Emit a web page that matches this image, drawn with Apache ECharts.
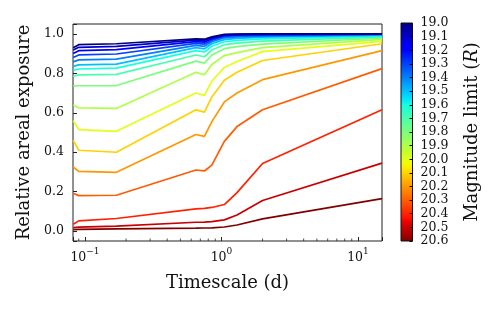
<!DOCTYPE html>
<html><head><meta charset="utf-8">
<script src="https://cdn.jsdelivr.net/npm/echarts@6/dist/echarts.min.js"></script>
<style>html,body{margin:0;padding:0;background:#fff}#c{width:499px;height:310px}</style>
</head><body><div id="c"></div>
<script>
// Timescale (days) sample points
const timescales = [0.082, 0.09, 0.17, 0.65, 0.75, 0.85, 1.05, 1.3, 2.0, 15];
// Relative areal exposure per magnitude limit
const exp19_0 = [0.930, 0.945, 0.950, 0.975, 0.973, 0.985, 0.997, 0.999, 1.000, 1.000];
const exp19_1 = [0.918, 0.932, 0.937, 0.968, 0.966, 0.980, 0.995, 0.998, 0.999, 1.000];
const exp19_2 = [0.900, 0.915, 0.920, 0.961, 0.958, 0.975, 0.992, 0.995, 0.997, 0.999];
const exp19_3 = [0.880, 0.893, 0.898, 0.952, 0.948, 0.968, 0.987, 0.991, 0.994, 0.998];
const exp19_4 = [0.858, 0.868, 0.872, 0.942, 0.937, 0.960, 0.980, 0.985, 0.989, 0.996];
const exp19_5 = [0.835, 0.843, 0.847, 0.930, 0.924, 0.950, 0.971, 0.977, 0.983, 0.993];
const exp19_6 = [0.815, 0.822, 0.826, 0.915, 0.908, 0.937, 0.960, 0.967, 0.975, 0.989];
const exp19_7 = [0.785, 0.792, 0.795, 0.893, 0.884, 0.918, 0.945, 0.953, 0.963, 0.985];
const exp19_8 = [0.735, 0.737, 0.738, 0.862, 0.852, 0.893, 0.925, 0.935, 0.948, 0.979];
const exp19_9 = [0.640, 0.625, 0.622, 0.805, 0.793, 0.845, 0.890, 0.905, 0.930, 0.972];
const exp20_0 = [0.560, 0.515, 0.506, 0.700, 0.688, 0.760, 0.830, 0.860, 0.910, 0.962];
const exp20_1 = [0.460, 0.410, 0.400, 0.615, 0.603, 0.680, 0.765, 0.805, 0.865, 0.950];
const exp20_2 = [0.325, 0.303, 0.298, 0.490, 0.480, 0.555, 0.655, 0.700, 0.768, 0.915];
const exp20_3 = [0.192, 0.180, 0.182, 0.310, 0.305, 0.335, 0.455, 0.530, 0.615, 0.824];
const exp20_4 = [0.035, 0.052, 0.064, 0.113, 0.115, 0.120, 0.135, 0.195, 0.343, 0.615];
const exp20_5 = [0.018, 0.020, 0.025, 0.045, 0.046, 0.048, 0.057, 0.082, 0.155, 0.345];
const exp20_6 = [0.008, 0.009, 0.011, 0.015, 0.016, 0.017, 0.021, 0.031, 0.062, 0.165];

const magnitudes = [19.0, 19.1, 19.2, 19.3, 19.4, 19.5, 19.6, 19.7, 19.8, 19.9, 20.0, 20.1, 20.2, 20.3, 20.4, 20.5, 20.6];
const exposures = [exp19_0, exp19_1, exp19_2, exp19_3, exp19_4, exp19_5, exp19_6, exp19_7, exp19_8, exp19_9,
                   exp20_0, exp20_1, exp20_2, exp20_3, exp20_4, exp20_5, exp20_6];
const xMinorTicks = [0.09, 0.2, 0.3, 0.4, 0.5, 0.6, 0.7, 0.8, 0.9, 2, 3, 4, 5, 6, 7, 8, 9];
const magMin = 19.0, magMax = 20.6;

const X_MIN = 0.0817, X_MAX = 15.0, Y_MIN = -0.05, Y_MAX = 1.05;
const FONT = 'DejaVu Serif';
const INK = '#111';

function interp(v, pts) {
  for (let i = 1; i < pts.length; i++) {
    if (v <= pts[i][0]) {
      const [x0, y0] = pts[i - 1], [x1, y1] = pts[i];
      return y0 + (y1 - y0) * (v - x0) / (x1 - x0);
    }
  }
  return pts[pts.length - 1][1];
}
function jet(v) {
  v = Math.max(0, Math.min(1, v));
  const r = interp(v, [[0, 0], [0.35, 0], [0.66, 1], [0.89, 1], [1, 0.5]]);
  const g = interp(v, [[0, 0], [0.125, 0], [0.375, 1], [0.64, 1], [0.91, 0], [1, 0]]);
  const b = interp(v, [[0, 0.5], [0.11, 1], [0.34, 1], [0.65, 0], [1, 0]]);
  return 'rgb(' + Math.round(r * 255) + ',' + Math.round(g * 255) + ',' + Math.round(b * 255) + ')';
}

const chart = echarts.init(document.getElementById('c'), null, {renderer: 'canvas'});

const lineSeries = [];
for (let i = magnitudes.length - 1; i >= 0; i--) {
  lineSeries.push({
    type: 'line', xAxisIndex: 0, yAxisIndex: 0,
    name: magnitudes[i].toFixed(1),
    showSymbol: false, symbol: 'none', silent: true,
    data: timescales.map((t, j) => [t, exposures[i][j]]),
    lineStyle: {width: 1.7, color: jet((magnitudes[i] - magMin) / (magMax - magMin))},
    z: 3
  });
}

const stops = [];
for (let k = 0; k <= 64; k++) stops.push({offset: k / 64, color: jet(k / 64)});

const option = {
  animation: false,
  backgroundColor: '#fff',
  grid: [
    {left: 73, top: 24, width: 309, height: 217, show: true, borderColor: '#222', borderWidth: 1, backgroundColor: 'transparent'},
    {left: 401, top: 23, width: 11.5, height: 218, show: true, borderColor: '#111', borderWidth: 1,
     backgroundColor: new echarts.graphic.LinearGradient(0, 0, 0, 1, stops)}
  ],
  xAxis: [
    {
      gridIndex: 0, type: 'log', logBase: 10, min: X_MIN, max: X_MAX, position: 'bottom',
      name: 'Timescale (d)', nameLocation: 'middle', nameGap: 33,
      nameTextStyle: {fontFamily: FONT, fontSize: 18, color: INK},
      axisLine: {show: false, onZero: false},
      axisTick: {show: true, inside: true, length: 4, lineStyle: {color: '#222', width: 1}},
      splitLine: {show: false},
      minorTick: {show: false},
      axisLabel: {
        margin: 6,
        formatter: function (v) {
          const e = Math.log10(v);
          const r = Math.round(e);
          if (Math.abs(e - r) > 1e-6) return '';
          return '{b|10}{s|' + (r < 0 ? '\u2212' + (-r) : String(r)) + '}';
        },
        rich: {
          b: {fontFamily: FONT, fontSize: 12.5, color: INK, lineHeight: 17, verticalAlign: 'bottom'},
          s: {fontFamily: FONT, fontSize: 9, color: INK, lineHeight: 9, verticalAlign: 'top'}
        }
      }
    },
    {gridIndex: 1, type: 'value', min: 0, max: 1, show: false}
  ],
  yAxis: [
    {
      gridIndex: 0, type: 'value', min: Y_MIN, max: Y_MAX,
      name: 'Relative areal exposure', nameLocation: 'middle', nameGap: 34,
      nameTextStyle: {fontFamily: FONT, fontSize: 18, color: INK},
      axisLine: {show: false, onZero: false},
      axisTick: {show: true, inside: true, length: 4, lineStyle: {color: '#222', width: 1}},
      splitLine: {show: false},
      axisLabel: {
        margin: 9, fontFamily: FONT, fontSize: 12.5, color: INK,
        formatter: function (v) {
          if (Math.abs(v * 5 - Math.round(v * 5)) > 1e-6) return '';
          return v.toFixed(1);
        }
      }
    },
    {
      gridIndex: 1, type: 'value', min: magMin, max: magMax, interval: 0.1, inverse: true, position: 'right',
      name: '{a|Magnitude limit (}{i|R}{a|)}', nameLocation: 'middle', nameGap: 51, nameRotate: 90,
      nameTextStyle: {
        rich: {
          a: {fontFamily: FONT, fontSize: 18, color: INK},
          i: {fontFamily: FONT, fontSize: 18, color: INK, fontStyle: 'italic'}
        }
      },
      axisLine: {show: false, onZero: false},
      axisTick: {show: true, inside: true, length: 3, lineStyle: {color: '#000', width: 1}},
      splitLine: {show: false},
      axisLabel: {
        margin: 8, fontFamily: FONT, fontSize: 12.5, color: INK,
        formatter: function (v) { return v.toFixed(1); }
      }
    }
  ],
  series: lineSeries.concat([
    {
      type: 'custom', xAxisIndex: 0, yAxisIndex: 0, silent: true, clip: false, z: 5,
      data: xMinorTicks.map(v => [v, Y_MIN]),
      renderItem: function (params, api) {
        const p = api.coord([api.value(0), Y_MIN]);
        return {type: 'line', shape: {x1: p[0], y1: p[1], x2: p[0], y2: p[1] - 2.5},
                style: {stroke: '#222', lineWidth: 0.8}};
      }
    }
  ])
};
chart.setOption(option);
</script>
</body></html>
